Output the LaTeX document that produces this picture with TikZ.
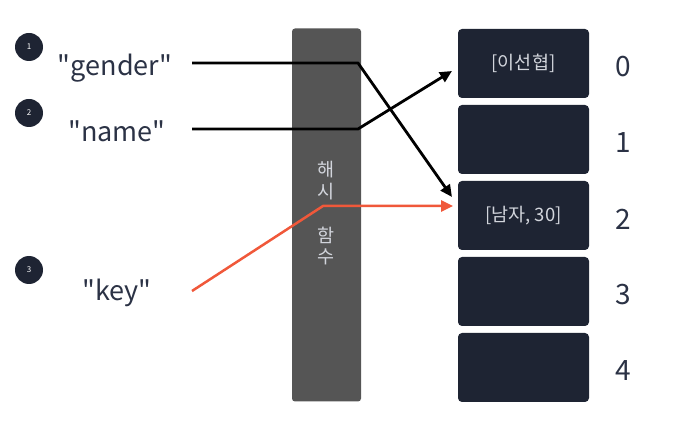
\documentclass[tikz,border=0pt]{standalone}
\usepackage{fontspec}
\newfontfamily\kr{Noto Sans CJK KR}
\usetikzlibrary{arrows.meta}
\definecolor{navy}{HTML}{1E2433}
\definecolor{txt}{HTML}{2B3245}
\definecolor{barc}{HTML}{555555}
\definecolor{boxtxt}{HTML}{D2D5DC}
\definecolor{redl}{HTML}{F0583A}
\tikzset{
  bucket/.style={draw=none,fill=navy,rounded corners=4pt,minimum width=131pt,minimum height=69pt,inner sep=0pt},
  btxt/.style={text=boxtxt,font=\kr\fontsize{18.5}{22}\selectfont,inner sep=0pt},
  keytxt/.style={text=txt,font=\kr\fontsize{27}{32}\selectfont,inner sep=0pt},
  idx/.style={text=txt,font=\kr\fontsize{28}{32}\selectfont,inner sep=0pt},
  badge/.style={circle,fill=navy,minimum size=28pt,inner sep=0pt,text=white,font=\kr\fontsize{8}{9}\selectfont},
  hashbar/.style={fill=barc,rounded corners=3pt,minimum width=69pt,minimum height=373pt,inner sep=0pt},
  hchar/.style={text=boxtxt,font=\kr\fontsize{18.5}{22}\selectfont,inner sep=0pt},
  link/.style={line width=2.8pt,line join=round,-{Triangle[length=12pt,width=11pt]}},
}
\begin{document}
\begin{tikzpicture}[x=1pt,y=-1pt]
\useasboundingbox (0,0) rectangle (680,427);
% hash bar
\node[hashbar] (bar) at (326.5,215) {};
\node[hchar] (h1) at (326,170) {해};
\node[hchar] (h2) at (326,192) {시};
\node[hchar] (h3) at (326,235) {함};
\node[hchar] (h4) at (326,257) {수};
% buckets
\foreach \i in {0,...,4}{
  \node[bucket] (b\i) at (523.5,{63.5+76*\i}) {};
  \node[idx] (n\i) at (623,{67+76*\i}) {\i};
}
\node[btxt] (t0) at (b0.center) {[이선협]};
\node[btxt] (t2) at (b2.center) {[남자, 30]};
% badges
\node[badge] (c1) at (29,47) {1};
\node[badge] (c2) at (29,113) {2};
\node[badge] (c3) at (29,270) {3};
% keys
\node[keytxt] (k1) at (115,68) {"gender"};
\node[keytxt] (k2) at (117,131) {"name"};
\node[keytxt] (k3) at (117,293) {"key"};
% coordinates
\coordinate (s1) at (192,63);
\coordinate (m1) at (358,63);
\coordinate (e1) at (452,197);
\coordinate (s2) at (192,129);
\coordinate (m2) at (358,129);
\coordinate (e2) at (452,71);
\coordinate (s3) at (192,291);
\coordinate (m3) at (323,206);
\coordinate (e3) at (453,206);
\draw[link] (s1) -- (m1) -- (e1);
\draw[link] (s2) -- (m2) -- (e2);
\draw[link,draw=redl,line width=2.5pt] (s3) -- (m3) -- (e3);
\end{tikzpicture}
\end{document}
